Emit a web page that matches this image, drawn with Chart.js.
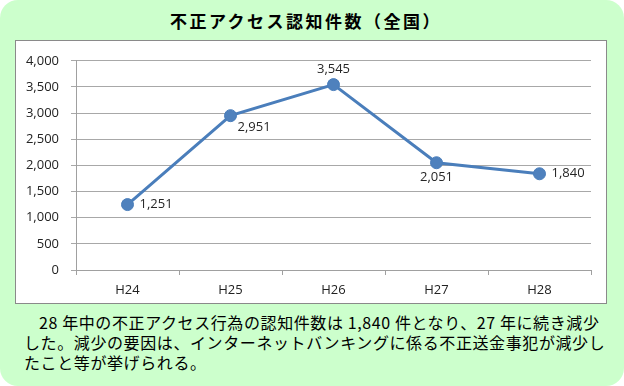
<!DOCTYPE html>
<html>
<head>
<meta charset="utf-8">
<script src="https://cdn.jsdelivr.net/npm/chart.js@4/dist/chart.umd.min.js"></script>
<style>
  html, body { margin: 0; padding: 0; background: #fff; }
  #wrap { position: relative; width: 624px; height: 386px; background: #ccffcc; border-radius: 18px; overflow: hidden; }
  #title { position: absolute; left: 0; top: 9px; width: 612px; text-align: center; font: bold 17px "Noto Sans CJK JP"; letter-spacing: 2.5px; color: #000; line-height: 24px; }
  #box { position: absolute; left: 15px; top: 40px; width: 590px; height: 262px; background: #fff; border: 1px solid #8a8a8a; }
  #note { position: absolute; left: 24px; top: 312px; font: 16px "Noto Sans CJK JP"; line-height: 20px; letter-spacing: 0.6px; color: #000; white-space: nowrap; }
</style>
</head>
<body>
<div id="wrap">
  <div id="title">不正アクセス認知件数（全国）</div>
  <div id="box"><canvas id="myChart" width="590" height="262"></canvas></div>
  <div id="note"><span style="padding-left:15px">28 年中の不正アクセス行為の認知件数は 1,840 件となり、27 年に続き減少</span><br>した。減少の要因は、インターネットバンキングに係る不正送金事犯が減少し<br>たこと等が挙げられる。</div>
</div>
<script>
const years = ['H24', 'H25', 'H26', 'H27', 'H28'];
const counts = [1251, 2951, 3545, 2051, 1840];
const yTicks = [0, 500, 1000, 1500, 2000, 2500, 3000, 3500, 4000];
// where each value label sits next to its point
const labelPos = ['right', 'belowRight', 'above', 'below', 'right'];

function fmt(v) { return v.toLocaleString('en-US'); }

const valueLabels = {
  id: 'valueLabels',
  afterDatasetsDraw(chart) {
    const c = chart.ctx;
    const pts = chart.getDatasetMeta(0).data;
    c.save();
    c.font = '13px "Open Sans"';
    c.fillStyle = '#262626';
    c.textBaseline = 'middle';
    pts.forEach((p, i) => {
      const t = fmt(counts[i]);
      const pos = labelPos[i];
      if (pos == 'right') { c.textAlign = 'left'; c.fillText(t, p.x + 12, p.y); }
      else if (pos == 'belowRight') { c.textAlign = 'left'; c.fillText(t, p.x + 7, p.y + 12); }
      else if (pos == 'above') { c.textAlign = 'center'; c.fillText(t, p.x, p.y - 15); }
      else { c.textAlign = 'center'; c.fillText(t, p.x, p.y + 15); }
    });
    c.restore();
  }
};

const ctx = document.getElementById('myChart');
new Chart(ctx, {
  type: 'line',
  data: {
    labels: years,
    datasets: [{
      data: counts,
      borderColor: '#4a7ebb',
      borderWidth: 3,
      pointRadius: 6,
      pointHoverRadius: 6,
      pointBackgroundColor: '#4f81bd',
      pointBorderColor: '#4a7ebb',
      pointBorderWidth: 1,
      tension: 0
    }]
  },
  options: {
    responsive: false,
    animation: false,
    layout: { padding: { left: 0, right: 15, top: 16, bottom: 0 } },
    plugins: { legend: { display: false }, tooltip: { enabled: false } },
    scales: {
      x: {
        offset: true,
        grid: { offset: true, drawOnChartArea: false, drawTicks: true, tickLength: 5, color: '#a0a0a0' },
        border: { color: '#a0a0a0' },
        ticks: { color: '#222', font: { family: 'Open Sans', size: 13 }, padding: 7 },
        afterFit(s) { s.height = 33; }
      },
      y: {
        min: 0, max: 4000,
        afterBuildTicks(s) { s.ticks = yTicks.map(v => ({ value: v })); },
        grid: { color: '#a8a8a8', tickLength: 5 },
        border: { color: '#a0a0a0' },
        ticks: { color: '#222', font: { family: 'Open Sans', size: 13 }, padding: 12, callback: v => fmt(v) },
        afterFit(s) { s.width = 60; }
      }
    }
  },
  plugins: [valueLabels]
});
</script>
</body>
</html>
